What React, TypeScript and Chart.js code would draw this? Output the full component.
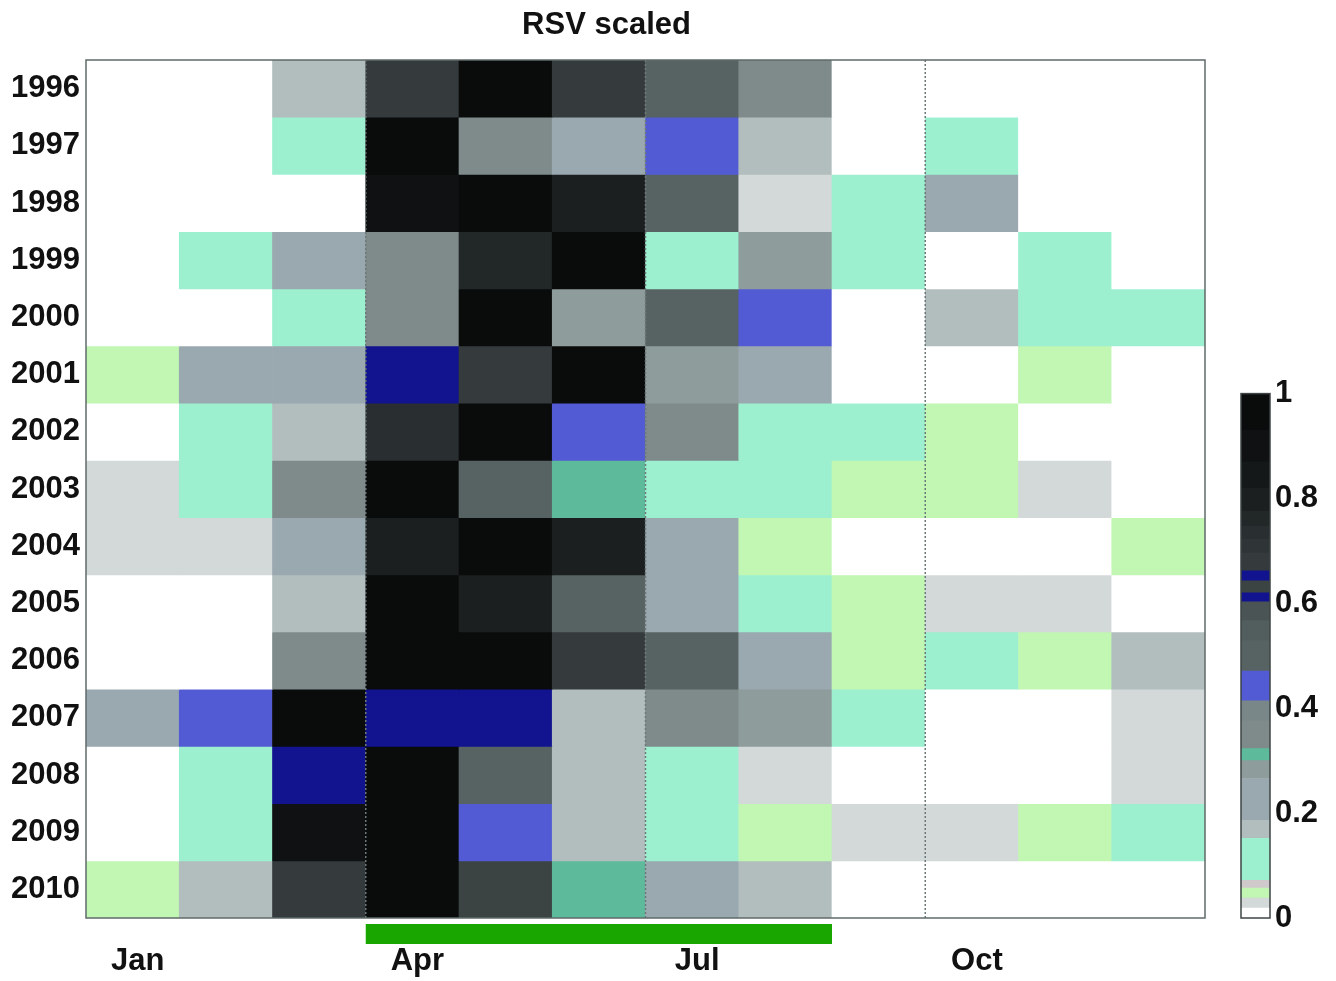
import React, { useEffect, useRef } from 'react';
import { Chart, registerables } from 'chart.js';

Chart.register(...registerables);

// ---------- data ----------
const months = ['Jan', 'Feb', 'Mar', 'Apr', 'May', 'Jun', 'Jul', 'Aug', 'Sep', 'Oct', 'Nov', 'Dec'];
const monthTickLabels = ['Jan', '', '', 'Apr', '', '', 'Jul', '', '', 'Oct', '', ''];
const years = ['1996', '1997', '1998', '1999', '2000', '2001', '2002', '2003', '2004', '2005', '2006', '2007', '2008', '2009', '2010'];

// RSV scaled values (0..1) per year, Jan..Dec
const r1996 = [0, 0, 0.17, 0.68, 0.97, 0.68, 0.5, 0.35, 0, 0, 0, 0];
const r1997 = [0, 0, 0.11, 0.97, 0.35, 0.22, 0.44, 0.17, 0, 0.11, 0, 0];
const r1998 = [0, 0, 0, 0.9, 0.97, 0.8, 0.5, 0.03, 0.11, 0.22, 0, 0];
const r1999 = [0, 0.11, 0.22, 0.35, 0.76, 0.97, 0.11, 0.28, 0.11, 0, 0.11, 0];
const r2000 = [0, 0, 0.11, 0.35, 0.97, 0.28, 0.5, 0.44, 0, 0.17, 0.11, 0.11];
const r2001 = [0.05, 0.22, 0.22, 0.61, 0.68, 0.97, 0.28, 0.22, 0, 0, 0.05, 0];
const r2002 = [0, 0.11, 0.17, 0.73, 0.97, 0.44, 0.35, 0.11, 0.11, 0.05, 0, 0];
const r2003 = [0.03, 0.11, 0.35, 0.97, 0.5, 0.31, 0.11, 0.11, 0.05, 0.05, 0.03, 0];
const r2004 = [0.03, 0.03, 0.22, 0.8, 0.97, 0.8, 0.22, 0.05, 0, 0, 0, 0.05];
const r2005 = [0, 0, 0.17, 0.97, 0.8, 0.5, 0.22, 0.11, 0.05, 0.03, 0.03, 0];
const r2006 = [0, 0, 0.35, 0.97, 0.97, 0.68, 0.5, 0.22, 0.05, 0.11, 0.05, 0.17];
const r2007 = [0.22, 0.44, 0.97, 0.61, 0.61, 0.17, 0.35, 0.28, 0.11, 0, 0, 0.03];
const r2008 = [0, 0.11, 0.61, 0.97, 0.5, 0.17, 0.11, 0.03, 0, 0, 0, 0.03];
const r2009 = [0, 0.11, 0.9, 0.97, 0.44, 0.17, 0.11, 0.05, 0.03, 0.03, 0.05, 0.11];
const r2010 = [0.05, 0.17, 0.68, 0.97, 0.63, 0.31, 0.22, 0.17, 0, 0, 0, 0];
const rows = [r1996, r1997, r1998, r1999, r2000, r2001, r2002, r2003, r2004, r2005, r2006, r2007, r2008, r2009, r2010];

// season marker (Apr..Aug) and dotted quarter boundaries (before Apr, Jul, Oct)
const seasonStart = 3;
const seasonEnd = 7;
const quarterLines = [3, 6, 9];

// discrete colour scale
const cbEdges = [0, 0.019, 0.038, 0.057, 0.072, 0.152, 0.186, 0.266, 0.3, 0.323, 0.376, 0.414, 0.471, 0.529, 0.567, 0.603, 0.62, 0.643, 0.662, 0.696, 0.722, 0.747, 0.776, 0.82, 0.87, 0.93, 1.0];
const cbColors = [
  '#ffffff', '#d3d8d8', '#c1f6b3', '#d0c9cc', '#9cf0d0', '#b2bebd', '#9aa8af', '#8e9c9b', '#5dba9b',
  '#7f8b8b', '#7a8788', '#535bd4', '#576363', '#525d5d', '#4a5454', '#11148e', '#3b4343', '#11148e',
  '#353b3d', '#2f3536', '#292e30', '#222728', '#1b1f20', '#151819', '#0f1112', '#0a0b0b',
];
const cbTicks = [0, 0.2, 0.4, 0.6, 0.8, 1];

// ---------- helpers ----------
const FONT = '"Liberation Sans", Arial, Helvetica, sans-serif';
const TXT = '#111111';

function colorFor(v: number): string {
  for (let i = 0; i < cbColors.length; i++) {
    if (v >= cbEdges[i] && v < cbEdges[i + 1]) return cbColors[i];
  }
  return cbColors[cbColors.length - 1];
}

const overlayPlugin = {
  id: 'overlay',
  afterDatasetsDraw(chart: any) {
    const { ctx, chartArea: a, scales } = chart;
    const x = scales.x;
    const colW = (a.right - a.left) / months.length;
    ctx.save();
    ctx.strokeStyle = '#6d7878';
    ctx.lineWidth = 1.5;
    ctx.setLineDash([2, 2]);
    quarterLines.forEach((q) => {
      const px = x.getPixelForValue(q) - colW / 2;
      ctx.beginPath();
      ctx.moveTo(px, a.top);
      ctx.lineTo(px, a.bottom);
      ctx.stroke();
    });
    ctx.setLineDash([]);
    ctx.strokeStyle = '#5f6a6a';
    ctx.lineWidth = 1.5;
    ctx.strokeRect(a.left, a.top, a.right - a.left, a.bottom - a.top);
    const sx0 = x.getPixelForValue(seasonStart) - colW / 2;
    const sx1 = x.getPixelForValue(seasonEnd) + colW / 2;
    ctx.fillStyle = '#19a600';
    ctx.fillRect(sx0, a.bottom + 6, sx1 - sx0, 20);
    ctx.restore();
  },
};

const cbFramePlugin = {
  id: 'cbFrame',
  afterDatasetsDraw(chart: any) {
    const { ctx, chartArea: a } = chart;
    ctx.save();
    ctx.strokeStyle = '#3e4444';
    ctx.lineWidth = 1.5;
    ctx.strokeRect(a.left, a.top, a.right - a.left, a.bottom - a.top);
    ctx.restore();
  },
};

export default function App() {
  const mainRef = useRef<HTMLCanvasElement | null>(null);
  const cbRef = useRef<HTMLCanvasElement | null>(null);

  useEffect(() => {
    if (!mainRef.current || !cbRef.current) return;
    const tickFont = { family: FONT, size: 31, weight: 'bold' as const, lineHeight: 1.2 };

    const main = new Chart(mainRef.current, {
      type: 'bar',
      data: {
        labels: months,
        datasets: years.map((yr, r) => ({
          label: yr,
          data: months.map(() => [r, r + 1]) as any,
          backgroundColor: rows[r].map(colorFor),
          borderWidth: 0,
          barPercentage: 1,
          categoryPercentage: 1,
          grouped: false,
        })),
      },
      options: {
        responsive: false,
        animation: false,
        events: [],
        layout: { padding: { left: 8, right: 131, top: 0, bottom: 0 } },
        plugins: {
          legend: { display: false },
          tooltip: { enabled: false },
          title: {
            display: true,
            text: 'RSV scaled',
            color: TXT,
            font: { family: FONT, size: 31, weight: 'bold', lineHeight: 1.2 },
            padding: { top: 6.4, bottom: 16.4 },
          },
        },
        scales: {
          x: {
            type: 'category',
            offset: true,
            grid: { display: false, drawTicks: false },
            border: { display: false },
            ticks: {
              autoSkip: false,
              maxRotation: 0,
              padding: 25,
              labelOffset: 5,
              color: TXT,
              font: tickFont,
              callback: (_v: any, i: number) => monthTickLabels[i],
            },
            afterFit: (s: any) => {
              s.height = 63;
            },
          },
          y: {
            type: 'linear',
            reverse: true,
            min: 0,
            max: years.length,
            grid: { display: false, drawTicks: false },
            border: { display: false },
            afterBuildTicks: (ax: any) => {
              ax.ticks = years.map((_, i) => ({ value: i + 0.5 }));
            },
            ticks: {
              autoSkip: false,
              padding: 6,
              color: TXT,
              font: tickFont,
              callback: (_v: any, i: number) => years[i],
            },
            afterFit: (s: any) => {
              s.width = 78;
            },
          },
        },
      },
      plugins: [overlayPlugin],
    });

    const cb = new Chart(cbRef.current, {
      type: 'bar',
      data: {
        labels: [''],
        datasets: cbColors.map((c, i) => ({
          data: [[cbEdges[i], cbEdges[i + 1]]] as any,
          backgroundColor: c,
          borderWidth: 0,
          barPercentage: 1,
          categoryPercentage: 1,
          grouped: false,
        })),
      },
      options: {
        responsive: false,
        animation: false,
        events: [],
        layout: { padding: { left: 41, top: 22, bottom: 32, right: 0 } },
        plugins: { legend: { display: false }, tooltip: { enabled: false } },
        scales: {
          x: { display: false },
          y: {
            position: 'right',
            min: 0,
            max: 1,
            grid: { display: false, drawTicks: false },
            border: { display: false },
            afterBuildTicks: (ax: any) => {
              ax.ticks = cbTicks.map((v) => ({ value: v }));
            },
            ticks: {
              padding: 5,
              color: TXT,
              font: tickFont,
              callback: (v: any) => String(v),
            },
            afterFit: (s: any) => {
              s.width = 66;
            },
          },
        },
      },
      plugins: [cbFramePlugin],
    });

    return () => {
      main.destroy();
      cb.destroy();
    };
  }, []);

  return (
    <div style={{ position: 'absolute', left: 0, top: 0, width: 1336, height: 981, background: '#ffffff' }}>
      <canvas ref={mainRef} width={1336} height={981} style={{ position: 'absolute', left: 0, top: 0 }} />
      <canvas ref={cbRef} width={136} height={580} style={{ position: 'absolute', left: 1200, top: 370 }} />
    </div>
  );
}
